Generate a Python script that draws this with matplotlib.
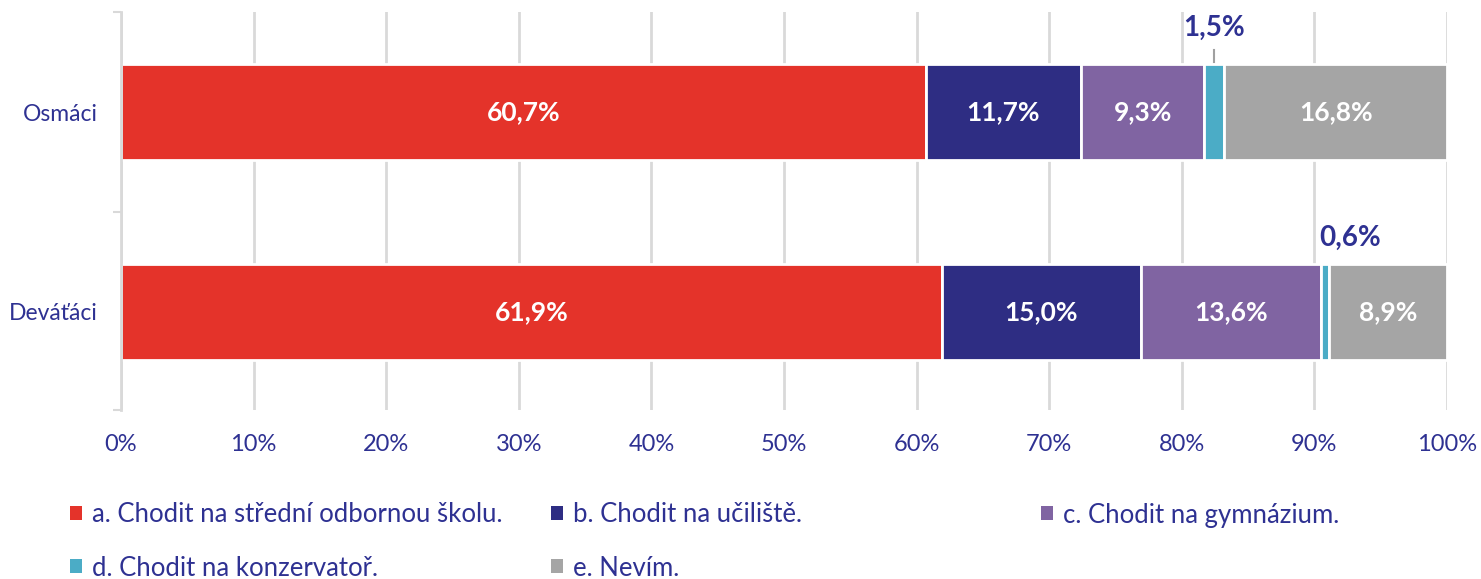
import numpy as np
import matplotlib.pyplot as plt
from matplotlib.patches import Patch

plt.rcParams['font.family'] = ['Lato', 'DejaVu Sans']

categories = ['Osmáci', 'Deváťáci']
series_names = ['a. Chodit na střední odbornou školu.', 'b. Chodit na učiliště.',
                'c. Chodit na gymnázium.', 'd. Chodit na konzervatoř.', 'e. Nevím.']
values = [
    [60.7, 61.9],
    [11.7, 15.0],
    [9.3, 13.6],
    [1.5, 0.6],
    [16.8, 8.9],
]
colors = ['#E4332A', '#2E2D83', '#8064A2', '#4BACC6', '#A5A5A5']
x_ticks = [0, 10, 20, 30, 40, 50, 60, 70, 80, 90, 100]

text_col = '#2E3192'

fig = plt.figure(figsize=(14.81, 5.79), dpi=100)
ax = fig.add_axes([121 / 1481, 1 - 410 / 579, 1326 / 1481, 398 / 579])

y = np.arange(len(categories))
left = np.zeros(len(categories))
for i, vals in enumerate(values):
    ax.barh(y, vals, left=left, height=0.48, color=colors[i],
            edgecolor='white', linewidth=2, zorder=2)
    for j, v in enumerate(vals):
        cx = left[j] + v / 2
        txt = '{:.1f}%'.format(v).replace('.', ',')
        if v < 3:
            # small segment -> label above the bar
            if j == 0:
                ax.text(cx, y[j] - 0.42, txt, ha='center', va='center',
                        color=text_col, fontsize=20, fontweight='bold', zorder=3)
                ax.plot([cx, cx], [y[j] - 0.31, y[j] - 0.25], color='#A0A0A0',
                        lw=1.5, zorder=3)
            else:
                ax.text(cx + 1.9, y[j] - 0.37, txt, ha='center', va='center',
                        color=text_col, fontsize=20, fontweight='bold', zorder=3)
        else:
            ax.text(cx, y[j], txt, ha='center', va='center', color='white',
                    fontsize=19, fontweight='bold', zorder=3)
    left = left + np.array(vals)

ax.set_xlim(0, 100)
ax.set_ylim(1.49, -0.5)
ax.set_xticks(x_ticks)
ax.set_xticklabels(['{}%'.format(t) for t in x_ticks])
ax.set_yticks(y)
ax.set_yticklabels(categories)
ax.set_yticks([-0.5, 0.5, 1.49], minor=True)
ax.tick_params(axis='y', which='major', length=0, pad=17, labelsize=16.5, labelcolor=text_col)
ax.tick_params(axis='y', which='minor', length=6, width=1.5, color='#D9D9D9')
ax.tick_params(axis='x', length=0, pad=17, labelsize=17, labelcolor=text_col)
ax.xaxis.grid(True, color='#D9D9D9', linewidth=2, zorder=0)
ax.set_axisbelow(True)
for s in ['top', 'right', 'bottom']:
    ax.spines[s].set_visible(False)
ax.spines['left'].set_color('#D9D9D9')
ax.spines['left'].set_linewidth(2)

# legend: three columns at fixed positions
handles = [Patch(facecolor=c, edgecolor='none') for c in colors]
leg_pos = [(0, 70 / 1481, 515), (1, 551 / 1481, 515), (2, 1041 / 1481, 515),
           (3, 70 / 1481, 568), (4, 551 / 1481, 568)]
for idx, xf, yp in leg_pos:
    leg = fig.legend([handles[idx]], [series_names[idx]], loc='center left',
                     bbox_to_anchor=(xf, 1 - yp / 579), frameon=False,
                     fontsize=18.5, handlelength=0.47, handleheight=0.47,
                     handletextpad=0.4, borderpad=0, borderaxespad=0)
    for t in leg.get_texts():
        t.set_color(text_col)

fig.savefig('out.png', dpi=100)
